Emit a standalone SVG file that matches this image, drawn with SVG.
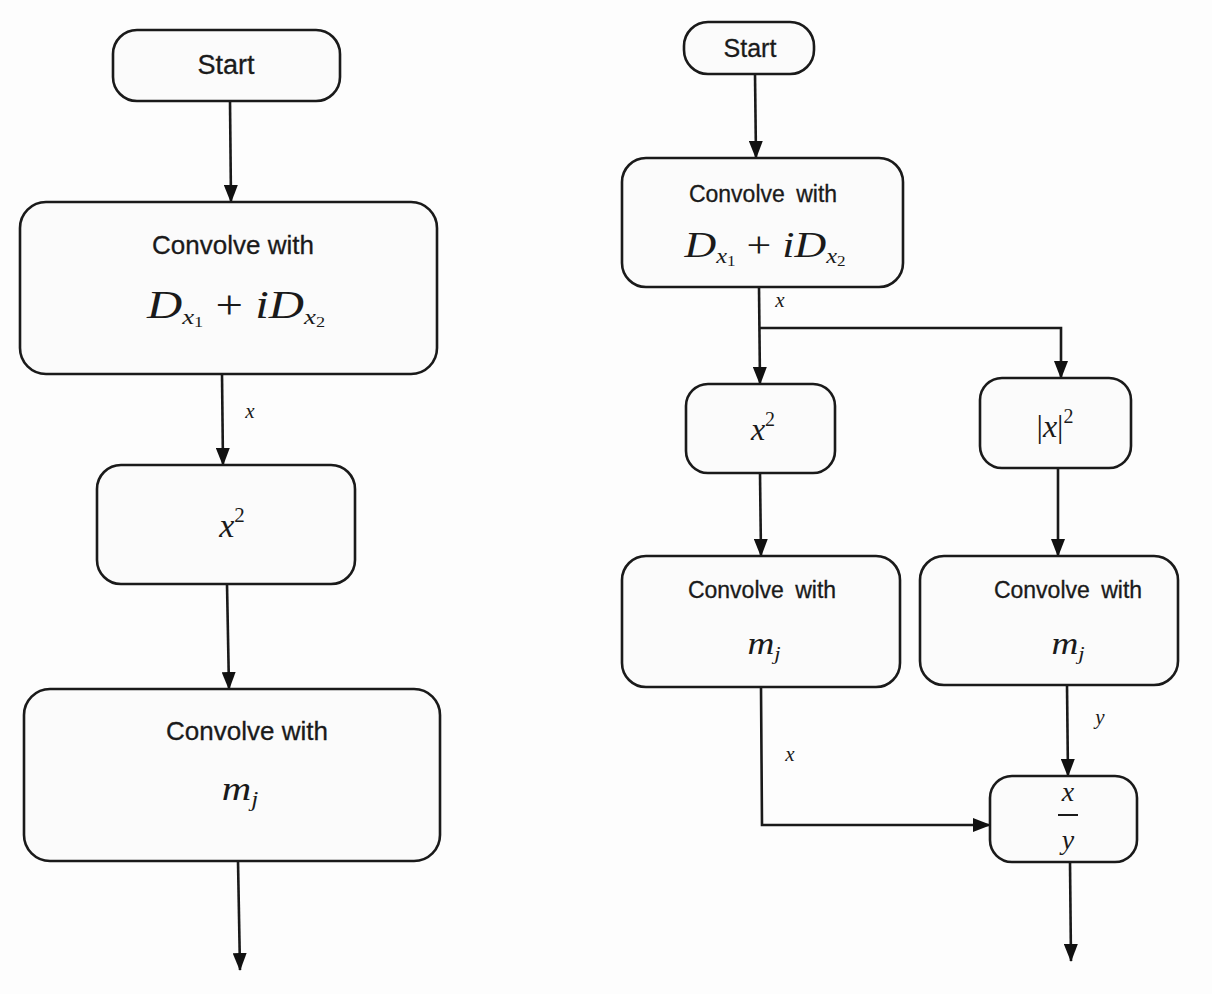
<svg xmlns="http://www.w3.org/2000/svg" width="1212" height="994" viewBox="0 0 1212 994">
<defs>
<marker id="ah" viewBox="0 0 18 14" refX="17" refY="7" markerWidth="18" markerHeight="14" markerUnits="userSpaceOnUse" orient="auto">
<path d="M0,0 L18,7 L0,14 Z" fill="#111"/>
</marker>
<style>
.box{fill:#fbfbfb;stroke:#1a1a1a;stroke-width:2.6}
.arr{fill:none;stroke:#1a1a1a;stroke-width:2.6;marker-end:url(#ah)}
.sans{font-family:"Liberation Sans",Arial,sans-serif;fill:#1a1a1a;text-anchor:middle;stroke:#1a1a1a;stroke-width:0.3}
.math{font-family:"Liberation Serif","Times New Roman",serif;font-style:italic;fill:#1a1a1a;text-anchor:middle}
.up{font-style:normal}
</style>
</defs>
<rect width="1212" height="994" fill="#fdfdfd"/>

<g id="connectors">
<line class="arr" x1="230" y1="101" x2="231" y2="202"/>
<line class="arr" x1="222" y1="374" x2="223" y2="465"/>
<line class="arr" x1="227" y1="584" x2="229" y2="689"/>
<line class="arr" x1="238" y1="861" x2="240" y2="970"/>

<line class="arr" x1="755" y1="74" x2="756" y2="158"/>
<line class="arr" x1="759" y1="287" x2="760" y2="384"/>
<polyline class="arr" points="760,328 1061,328 1061,378"/>
<line class="arr" x1="760" y1="473" x2="761" y2="556"/>
<line class="arr" x1="1058" y1="468" x2="1058" y2="556"/>
<polyline class="arr" points="761,687 762,825 990,825"/>
<line class="arr" x1="1067" y1="685" x2="1068" y2="776"/>
<line class="arr" x1="1070" y1="862" x2="1071" y2="961"/>

<text class="math" x="250" y="418" font-size="21">x</text>
<text class="math" x="780" y="307" font-size="21">x</text>
<text class="math" x="790" y="761" font-size="21">x</text>
<text class="math" x="1100" y="724" font-size="21">y</text>
</g>

<g id="start_left">
<rect class="box" x="113" y="30" width="227" height="71" rx="24"/>
<text class="sans" x="226" y="74" font-size="27">Start</text>
</g>
<g id="conv_d_left">
<rect class="box" x="20" y="202" width="417" height="172" rx="26"/>
<text class="sans" x="233" y="254" font-size="26">Convolve with</text>
<text class="math" transform="translate(236,318) scale(1.22,1)" font-size="40">D<tspan font-size="22" dy="6">x</tspan><tspan font-size="15" dy="3" class="up">1</tspan><tspan dy="-9" class="up"> + </tspan>iD<tspan font-size="22" dy="6">x</tspan><tspan font-size="15" dy="3" class="up">2</tspan></text>
</g>
<g id="sq_left">
<rect class="box" x="97" y="465" width="258" height="119" rx="24"/>
<text class="math" x="232" y="537" font-size="34">x<tspan font-size="21" dy="-15" class="up">2</tspan></text>
</g>
<g id="conv_m_left">
<rect class="box" x="24" y="689" width="416" height="172" rx="26"/>
<text class="sans" x="247" y="740" font-size="26">Convolve with</text>
<text class="math" transform="translate(240,800) scale(1.2,1)" font-size="34">m<tspan font-size="21" dy="6">j</tspan></text>
</g>

<g id="start_right">
<rect class="box" x="684" y="22" width="130" height="52" rx="24"/>
<text class="sans" x="750" y="57" font-size="25">Start</text>
</g>
<g id="conv_d_right">
<rect class="box" x="622" y="158" width="281" height="129" rx="24"/>
<text class="sans" x="763" y="202" font-size="23" word-spacing="5">Convolve with</text>
<text class="math" transform="translate(765,257) scale(1.22,1)" font-size="36">D<tspan font-size="20" dy="6">x</tspan><tspan font-size="14" dy="3" class="up">1</tspan><tspan dy="-9" class="up"> + </tspan>iD<tspan font-size="20" dy="6">x</tspan><tspan font-size="14" dy="3" class="up">2</tspan></text>
</g>
<g id="sq_right">
<rect class="box" x="686" y="384" width="149" height="89" rx="22"/>
<text class="math" x="763" y="440" font-size="32">x<tspan font-size="20" dy="-14" class="up">2</tspan></text>
</g>
<g id="abs_right">
<rect class="box" x="980" y="378" width="151" height="90" rx="22"/>
<text class="math" x="1055" y="437" font-size="32"><tspan class="up">|</tspan>x<tspan class="up">|</tspan><tspan font-size="20" dy="-14" class="up">2</tspan></text>
</g>
<g id="conv_m_right1">
<rect class="box" x="622" y="556" width="278" height="131" rx="24"/>
<text class="sans" x="762" y="598" font-size="23" word-spacing="5">Convolve with</text>
<text class="math" transform="translate(764,654) scale(1.2,1)" font-size="31">m<tspan font-size="19" dy="6">j</tspan></text>
</g>
<g id="conv_m_right2">
<rect class="box" x="920" y="556" width="258" height="129" rx="24"/>
<text class="sans" x="1068" y="598" font-size="23" word-spacing="5">Convolve with</text>
<text class="math" transform="translate(1068,654) scale(1.2,1)" font-size="31">m<tspan font-size="19" dy="6">j</tspan></text>
</g>
<g id="div_right">
<rect class="box" x="990" y="776" width="147" height="86" rx="22"/>
<text class="math" x="1068" y="801" font-size="28">x</text>
<line x1="1058" y1="815" x2="1078" y2="815" stroke="#1a1a1a" stroke-width="2"/>
<text class="math" x="1068" y="849" font-size="28">y</text>
</g>
</svg>
